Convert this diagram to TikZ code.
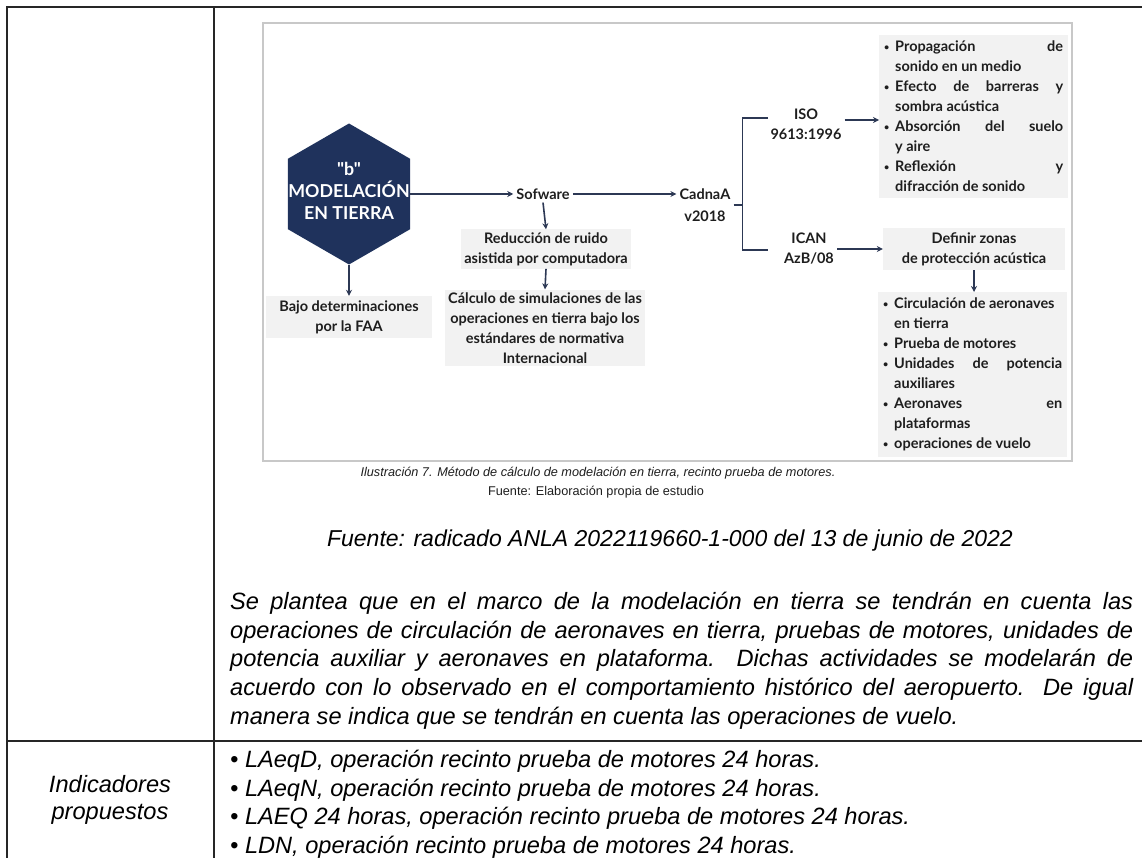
\documentclass[tikz,border=0pt]{standalone}
\usepackage{fontspec}
\setmainfont{Liberation Sans}
\newfontfamily\lato{Lato}
\usetikzlibrary{arrows.meta,shapes.geometric,calc}
\definecolor{navy}{RGB}{31,50,92}
\definecolor{arrowc}{RGB}{44,56,84}
\definecolor{boxgray}{RGB}{242,242,242}
\definecolor{framegray}{RGB}{200,200,200}
\definecolor{ink}{RGB}{30,30,30}
\newlength\lw
\setlength\lw{168pt}
\newcommand\bul{\makebox[11pt][l]{\raisebox{1pt}{\fontsize{9}{9}\selectfont\textbullet}}}
\newcommand\li[1]{\bul\makebox[\lw][s]{#1}}
\newcommand\lf[1]{\bul#1}
\newcommand\lc[1]{\hspace*{11pt}#1}
\newcommand\pl[1]{\makebox[903pt][s]{#1}}
\tikzset{
  arr/.style={draw=arrowc,line width=1.6pt,-{Stealth[length=6pt,width=6pt]}},
  lnk/.style={draw=arrowc,line width=1.6pt},
  dtext/.style={font=\lato\bfseries\fontsize{14.5}{20}\selectfont,text=ink,align=center,inner sep=3pt},
  gbox/.style={dtext,fill=boxgray},
  lbox/.style={dtext,fill=boxgray,align=left,anchor=north west,inner xsep=5pt,inner ysep=6pt},
  tline/.style={line width=1.3pt,draw=black!85},
  body/.style={font=\itshape\fontsize{23.6}{28.7}\selectfont,text=black,inner sep=0pt}
}
\begin{document}
\begin{tikzpicture}[x=1pt,y=-1pt]
 % Definitions
 \def\colx{214}
 \def\rowy{741}
 \useasboundingbox (0,0) rectangle (1142,858);
 % Table lines
 \draw[tline] (7,858) -- (7,7) -- (1142,7);
 \draw[tline] (\colx,7) -- (\colx,858);
 \draw[tline] (7,\rowy) -- (1142,\rowy);
 % Figure frame
 \draw[framegray,line width=1.2pt] (263,23) rectangle (1072,461);

 % Left branch
 \node[regular polygon,regular polygon sides=6,shape border rotate=30,minimum size=141pt,
   inner sep=0pt,fill=navy] (hexa) at (349,194) {};
 \node[align=center,text=white,inner sep=0pt,font=\lato\bfseries\fontsize{17.8}{22}\selectfont] (hext) at (349,191) {"b"\\MODELACIÓN\\EN TIERRA};
 \node[gbox,minimum width=166pt,minimum height=42pt] (bajo) at (349,317) {Bajo determinaciones\\por la FAA};

 % Middle branch
 \node[dtext] (sofw) at (543,194) {Sofware};
 \node[gbox] (reduc) at (546,249) {Reducción de ruido\\asistida por computadora};
 \node[gbox] (calc) at (545,328) {Cálculo de simulaciones de las\\operaciones en tierra bajo los\\estándares de normativa\\Internacional};
 \node[dtext] (cadna) at (705,205) {CadnaA\\[2pt]v2018};

 % Right branch
 \node[dtext] (iso) at (806,124) {ISO\\9613:1996};
 \node[dtext] (ican) at (809,249) {ICAN\\AzB/08};
 \node[lbox] (isolist) at (879,35) {\li{Propagación de}\\\lc{sonido en un medio}\\\li{Efecto de barreras y}\\\lc{sombra acústica}\\\li{Absorción del suelo}\\\lc{y aire}\\\li{Reflexión y}\\\lc{difracción de sonido}};
 \node[gbox,minimum width=182pt,minimum height=42pt] (defin) at (974,249) {Definir zonas\\de protección acústica};
 \node[lbox] (icanlist) at (878,292) {\lf{Circulación de aeronaves}\\\lc{en tierra}\\\lf{Prueba de motores}\\\li{Unidades de potencia}\\\lc{auxiliares}\\\li{Aeronaves en}\\\lc{plataformas}\\\lf{operaciones de vuelo}};

 % Connectors
 \coordinate (brk) at ($(cadna.east)+(9,0)$);
 \coordinate (isoin) at (768,118);
 \coordinate (icanin) at (768,250);
 \draw[arr] (hexa.east) -- (sofw.west);
 \draw[arr] (hexa.south) -- (bajo.north);
 \draw[arr] (sofw.east) -- (cadna.west |- sofw.east);
 \draw[arr] (sofw.south) -- (reduc.north);
 \draw[arr] (reduc.south) -- (calc.north);
 \draw[lnk] (cadna.east) -- (brk);
 \draw[lnk] (isoin) -| (brk) |- (icanin);
 \draw[arr] (iso.east |- isoin) ++(0,2) -- (isolist.west |- 0,120);
 \draw[arr] (ican.east) -- (defin.west);
 \draw[arr] (defin.south) -- (defin.south |- icanlist.north);

 % Captions
 \node[font=\itshape\fontsize{12.7}{14}\selectfont,text=ink] (ilus) at (598,473) {Ilustración 7. Método de cálculo de modelación en tierra, recinto prueba de motores.};
 \node[font=\fontsize{12.7}{14}\selectfont,text=ink] (fuent) at (596,492) {Fuente: Elaboración propia de estudio};
 \node[body,font=\itshape\fontsize{23}{28}\selectfont] (radic) at (670,541) {Fuente: radicado ANLA 2022119660-1-000 del 13 de junio de 2022};

 % Paragraph
 \node[body,anchor=north west,align=left] (parr) at (230,592) {\pl{Se plantea que en el marco de la modelación en tierra se tendrán en cuenta las}\\\pl{operaciones de circulación de aeronaves en tierra, pruebas de motores, unidades de}\\\pl{potencia auxiliar y aeronaves en plataforma. Dichas actividades se modelarán de}\\\pl{acuerdo con lo observado en el comportamiento histórico del aeropuerto. De igual}\\manera se indica que se tendrán en cuenta las operaciones de vuelo.};

 % Indicadores row
 \node[body,align=center,font=\itshape\fontsize{23.6}{27}\selectfont] (indic) at (110,800) {Indicadores\\propuestos};
 \node[body,anchor=north west,align=left] (indlist) at (230,750) {• LAeqD, operación recinto prueba de motores 24 horas.\\• LAeqN, operación recinto prueba de motores 24 horas.\\• LAEQ 24 horas, operación recinto prueba de motores 24 horas.\\• LDN, operación recinto prueba de motores 24 horas.};
\end{tikzpicture}
\end{document}
